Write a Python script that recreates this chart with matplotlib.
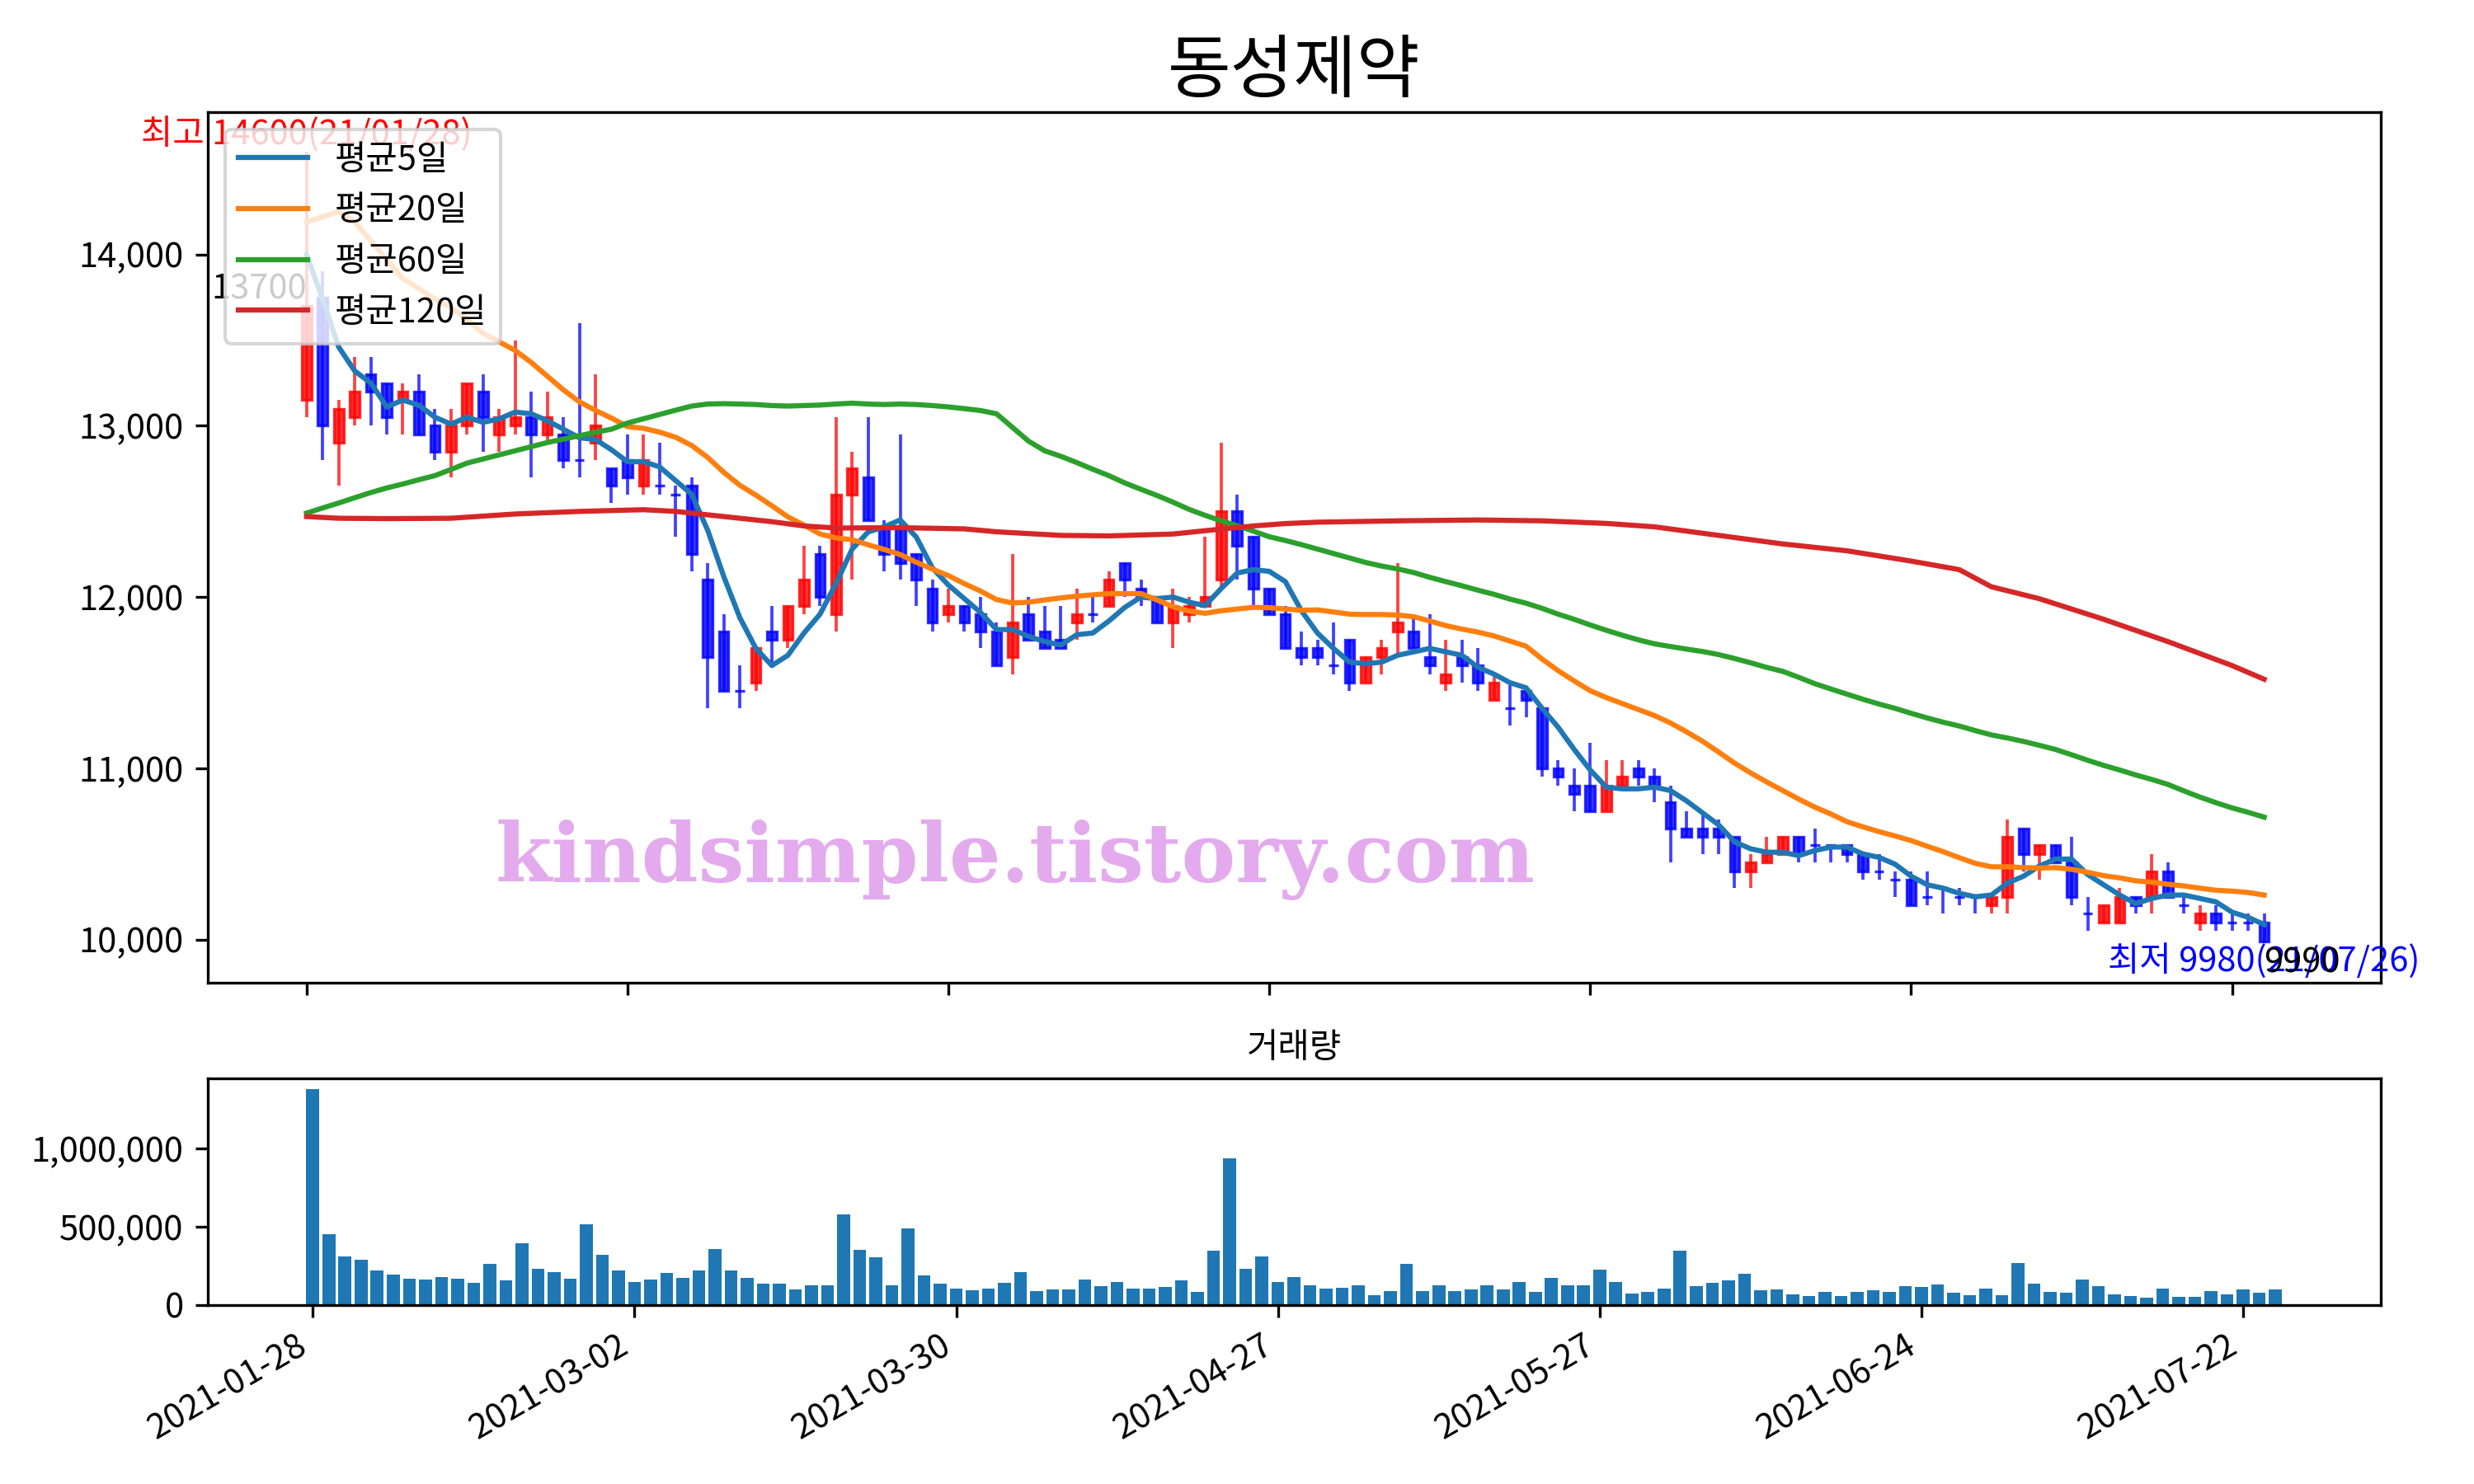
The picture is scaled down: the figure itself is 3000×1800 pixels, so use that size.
import numpy as np
import matplotlib.pyplot as plt
from matplotlib.ticker import FuncFormatter

plt.rcParams['font.family'] = ['Noto Sans CJK KR', 'DejaVu Sans']
plt.rcParams['axes.unicode_minus'] = False

# ---- data (trading-day index 0 = 2021-01-28) ----
title = '동성제약'
tick_pos = [0, 20, 40, 60, 80, 100, 120]
tick_dates = ['2021-01-28', '2021-03-02', '2021-03-30', '2021-04-27',
              '2021-05-27', '2021-06-24', '2021-07-22']

opens = [13150, 13750, 12900, 13050, 13300, 13250, 13150, 13200, 13000, 12850,
         13000, 13200, 12950, 13000, 13050, 12950, 12950, 12800, 12900, 12750,
         12800, 12650, 12650, 12600, 12650, 12100, 11800, 11450, 11500, 11800,
         11750, 11950, 12250, 11900, 12600, 12700, 12400, 12400, 12250, 12050,
         11900, 11950, 11900, 11800, 11650, 11900, 11800, 11750, 11850, 11900,
         11950, 12200, 12050, 12000, 11850, 11900, 11950, 12100, 12500, 12350,
         12050, 11900, 11700, 11700, 11600, 11750, 11500, 11650, 11800, 11800,
         11650, 11500, 11650, 11600, 11400, 11350, 11450, 11350, 11000, 10900,
         10900, 10750, 10900, 11000, 10950, 10800, 10650, 10650, 10650, 10600,
         10400, 10450, 10500, 10600, 10550, 10550, 10550, 10500, 10400, 10350,
         10350, 10250, 10300, 10250, 10250, 10200, 10250, 10650, 10500, 10550,
         10450, 10150, 10100, 10100, 10250, 10250, 10400, 10200, 10100, 10150,
         10100, 10100, 10100]
highs = [14600, 13900, 13150, 13400, 13400, 13250, 13250, 13300, 13100, 13100,
         13250, 13300, 13100, 13500, 13200, 13200, 13050, 13600, 13300, 12750,
         12950, 12950, 12900, 12650, 12700, 12200, 11900, 11600, 11700, 11950,
         11950, 12300, 12300, 13050, 12850, 13050, 12450, 12950, 12250, 12100,
         12050, 11950, 12000, 11850, 12250, 12000, 11950, 11950, 12050, 12000,
         12150, 12200, 12100, 12000, 12050, 12000, 12350, 12900, 12600, 12350,
         12050, 11950, 11800, 11750, 11850, 11750, 11650, 11750, 12200, 11900,
         11900, 11750, 11750, 11700, 11550, 11500, 11450, 11350, 11050, 11000,
         11150, 11050, 11050, 11050, 11000, 10900, 10750, 10750, 10700, 10600,
         10500, 10600, 10600, 10600, 10650, 10550, 10550, 10500, 10500, 10400,
         10400, 10400, 10300, 10300, 10250, 10250, 10700, 10650, 10550, 10550,
         10600, 10250, 10200, 10300, 10250, 10500, 10450, 10250, 10200, 10200,
         10150, 10150, 10150]
lows = [13050, 12800, 12650, 13000, 13000, 12950, 12950, 12950, 12800, 12700,
        12950, 12850, 12850, 12950, 12700, 12900, 12750, 12700, 12800, 12550,
        12600, 12600, 12600, 12350, 12150, 11350, 11450, 11350, 11450, 11600,
        11700, 11900, 11950, 11800, 12100, 12450, 12150, 12100, 11950, 11800,
        11850, 11800, 11700, 11600, 11550, 11750, 11700, 11700, 11750, 11850,
        11950, 12000, 11950, 11850, 11700, 11850, 11950, 12050, 12100, 11950,
        11900, 11700, 11600, 11600, 11550, 11450, 11500, 11550, 11650, 11700,
        11550, 11450, 11500, 11450, 11400, 11250, 11300, 10950, 10900, 10750,
        10750, 10750, 10900, 10900, 10800, 10450, 10600, 10500, 10500, 10300,
        10300, 10450, 10500, 10450, 10450, 10450, 10450, 10350, 10350, 10250,
        10200, 10200, 10150, 10200, 10150, 10150, 10150, 10400, 10350, 10450,
        10200, 10050, 10100, 10100, 10150, 10150, 10250, 10150, 10050, 10050,
        10050, 10050, 9980]
closes = [13700, 13000, 13100, 13200, 13200, 13050, 13200, 12950, 12850, 13000,
          13250, 13050, 13050, 13050, 12950, 13050, 12800, 12800, 13000, 12650,
          12700, 12800, 12650, 12600, 12250, 11650, 11450, 11450, 11700, 11750,
          11950, 12100, 12000, 12600, 12750, 12450, 12250, 12200, 12100, 11850,
          11950, 11850, 11800, 11600, 11850, 11750, 11700, 11700, 11900, 11900,
          12100, 12100, 12000, 11850, 11950, 11950, 12000, 12500, 12300, 12050,
          11900, 11700, 11650, 11650, 11600, 11500, 11650, 11700, 11850, 11700,
          11600, 11550, 11600, 11500, 11500, 11350, 11400, 11000, 10950, 10850,
          10750, 10900, 10950, 10950, 10900, 10650, 10600, 10600, 10600, 10400,
          10450, 10500, 10600, 10500, 10550, 10550, 10500, 10400, 10400, 10350,
          10200, 10250, 10300, 10250, 10250, 10250, 10600, 10500, 10550, 10450,
          10250, 10150, 10200, 10250, 10200, 10400, 10250, 10200, 10150, 10100,
          10100, 10100, 9990]
volumes = [1380000, 452000, 310000, 289000, 220000, 194000, 167000, 162000, 178000, 167000,
           141000, 262000, 157000, 394000, 231000, 209000, 167000, 516000, 320000, 220000,
           146000, 162000, 204000, 172000, 220000, 357000, 220000, 172000, 136000, 136000,
           99000, 125000, 125000, 579000, 352000, 304000, 125000, 489000, 188000, 136000,
           104000, 93000, 104000, 141000, 209000, 88000, 99000, 99000, 162000, 120000,
           146000, 104000, 104000, 114000, 157000, 83000, 347000, 938000, 231000, 310000,
           146000, 178000, 125000, 104000, 109000, 125000, 62000, 88000, 262000, 88000,
           125000, 88000, 99000, 125000, 99000, 146000, 83000, 172000, 125000, 125000,
           225000, 146000, 72000, 83000, 104000, 347000, 120000, 141000, 157000, 199000,
           93000, 99000, 67000, 56000, 83000, 56000, 83000, 93000, 83000, 120000,
           114000, 130000, 77000, 62000, 104000, 62000, 268000, 136000, 83000, 77000,
           162000, 120000, 67000, 56000, 46000, 104000, 51000, 51000, 88000, 67000,
           99000, 77000, 99000]

ma5 = [14000, 13740, 13460, 13320, 13250, 13110, 13150, 13120, 13050, 13010,
       13050, 13020, 13040, 13080, 13070, 13030, 12980, 12930, 12920, 12860,
       12790, 12790, 12760, 12680, 12600, 12390, 12120, 11880, 11700, 11600,
       11660, 11790, 11900, 12080, 12280, 12380, 12410, 12450, 12350, 12170,
       12070, 11990, 11910, 11810, 11810, 11770, 11740, 11720, 11780, 11790,
       11860, 11940, 12000, 11990, 12000, 11970, 11950, 12050, 12140, 12160,
       12150, 12090, 11920, 11790, 11700, 11620, 11610, 11620, 11660, 11680,
       11700, 11680, 11660, 11590, 11550, 11500, 11470, 11350, 11240, 11110,
       10990, 10890, 10880, 10880, 10890, 10870, 10810, 10740, 10670, 10570,
       10530, 10510, 10510, 10490, 10520, 10540, 10540, 10500, 10480, 10440,
       10370, 10320, 10300, 10270, 10250, 10260, 10330, 10370, 10430, 10470,
       10470, 10380, 10320, 10260, 10210, 10240, 10260, 10260, 10240, 10220,
       10160, 10130, 10088]
ma20 = [14190, 14220, 14250, 14190, 14080, 13970, 13860, 13800, 13740, 13690,
        13620, 13540, 13490, 13440, 13370, 13290, 13210, 13140, 13090, 13045,
        12995, 12985, 12963, 12933, 12885, 12815, 12728, 12653, 12595, 12533,
        12468, 12420, 12368, 12345, 12335, 12305, 12278, 12248, 12203, 12163,
        12125, 12078, 12035, 11985, 11965, 11970, 11983, 11995, 12005, 12013,
        12020, 12020, 12020, 11983, 11943, 11918, 11905, 11920, 11930, 11940,
        11938, 11930, 11923, 11925, 11913, 11900, 11898, 11898, 11895, 11885,
        11860, 11833, 11813, 11795, 11773, 11743, 11713, 11638, 11570, 11510,
        11453, 11413, 11378, 11343, 11308, 11265, 11213, 11158, 11095, 11030,
        10973, 10920, 10870, 10820, 10773, 10733, 10688, 10658, 10630, 10605,
        10578, 10545, 10513, 10478, 10445, 10425, 10425, 10420, 10418, 10420,
        10410, 10393, 10373, 10360, 10343, 10335, 10323, 10313, 10300, 10288,
        10283, 10275, 10260]
ma60 = [12490, 12520, 12549, 12580, 12610, 12637, 12660, 12685, 12709, 12745,
        12782, 12806, 12830, 12854, 12878, 12902, 12922, 12942, 12962, 12980,
        13016, 13041, 13066, 13091, 13115, 13127, 13129, 13127, 13124, 13118,
        13115, 13118, 13121, 13127, 13132, 13127, 13124, 13127, 13124, 13118,
        13110, 13100, 13089, 13070, 12990, 12910, 12854, 12822, 12785, 12746,
        12709, 12666, 12629, 12593, 12554, 12512, 12477, 12445, 12416, 12385,
        12352, 12330, 12306, 12280, 12254, 12228, 12202, 12181, 12164, 12143,
        12115, 12090, 12066, 12040, 12016, 11988, 11964, 11934, 11900, 11870,
        11837, 11806, 11777, 11750, 11727, 11711, 11696, 11682, 11664, 11641,
        11616, 11589, 11566, 11531, 11494, 11463, 11433, 11403, 11375, 11350,
        11321, 11294, 11269, 11247, 11220, 11195, 11177, 11157, 11134, 11110,
        11079, 11047, 11017, 10990, 10961, 10935, 10906, 10868, 10832, 10799,
        10769, 10743, 10715]
ma120_x = [0, 2, 5, 9, 13, 17, 21, 23, 25, 27, 29, 31, 33, 37, 41, 43, 47, 50, 54,
           57, 59, 61, 63, 68, 73, 77, 81, 84, 88, 92, 96, 100, 103, 105, 108,
           112, 116, 120, 122]
ma120 = [12470, 12460, 12458, 12460, 12485, 12500, 12510, 12500, 12480, 12460,
         12440, 12415, 12403, 12405, 12398, 12381, 12360, 12357, 12368, 12397,
         12415, 12429, 12437, 12445, 12450, 12445, 12430, 12410, 12360, 12310,
         12270, 12210, 12160, 12060, 11990, 11870, 11740, 11600, 11520]

# ---- figure ----
x = np.arange(len(closes))
o = np.array(opens)
c = np.array(closes)
colors = np.where(c > o, 'red', 'blue')

fig = plt.figure(figsize=(10, 6))
ax1 = fig.add_axes([0.0839, 0.3379, 0.8783, 0.5865])
ax2 = fig.add_axes([0.0839, 0.1206, 0.8783, 0.1527])

# candles
ax1.vlines(x, lows, highs, colors=colors, linewidth=0.9, alpha=0.75)
ax1.bar(x, c - o, bottom=o, width=0.6, color=colors, edgecolor=colors,
        linewidth=0.8, alpha=0.8)

# moving averages
ax1.plot(x, ma5, label='평균5일')
ax1.plot(x, ma20, label='평균20일')
ax1.plot(x, ma60, label='평균60일')
ax1.plot(ma120_x, ma120, label='평균120일')

ax1.text(0, highs[0], '최고 14600(21/01/28)', color='red', ha='center', va='bottom')
ax1.text(0, closes[0], '13700', ha='right', va='bottom')
ax1.text(122, lows[-1], '최저 9980(21/07/26)', color='blue', ha='center', va='top')
ax1.text(122, closes[-1] - 30, '9990', ha='left', va='top')

ax1.set_title(title, fontsize=20)
ax1.legend(loc='upper left')
ax1.set_xlim(-6.17, 129.25)
ax1.set_ylim(9749, 14831)
ax1.set_yticks([10000, 11000, 12000, 13000, 14000])
ax1.yaxis.set_major_formatter(FuncFormatter(lambda v, p: f'{v:,.0f}'))
ax1.set_xticks(tick_pos)
ax1.set_xticklabels([])

# volume
ax2.bar(x, volumes, width=0.8, color='C0')
ax2.set_title('거래량', fontsize=10)
ax2.set_xlim(-6.54, 128.54)
ax2.set_yticks([0, 500000, 1000000])
ax2.yaxis.set_major_formatter(FuncFormatter(lambda v, p: f'{v:,.0f}'))
ax2.set_xticks(tick_pos)
ax2.set_xticklabels(tick_dates, rotation=30, ha='right')

fig.text(0.4104, 0.4208, 'kindsimple.tistory.com', fontsize=23.7, fontweight='bold',
         family='DejaVu Serif', color='#e3aaed', ha='center', va='center', zorder=10)

fig.savefig('out.png', dpi=300)
